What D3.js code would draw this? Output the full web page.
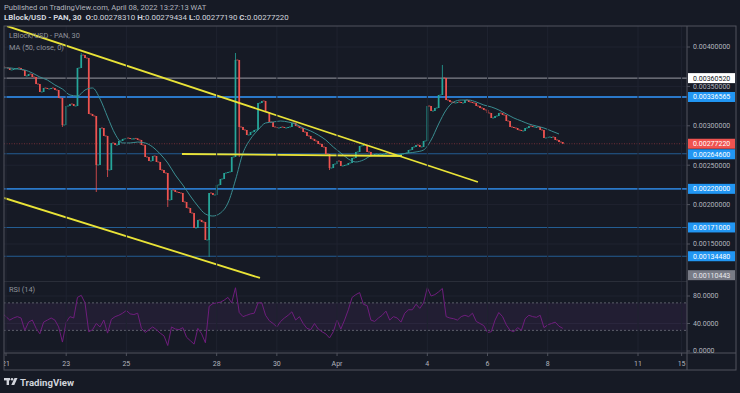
<!DOCTYPE html>
<html><head><meta charset="utf-8">
<script src="https://cdn.jsdelivr.net/npm/d3@7"></script>
<style>
html,body{margin:0;padding:0;background:#161a25;}
svg{display:block;}
text{font-family:Roboto,"Noto Sans",sans-serif;}
</style></head><body>
<svg id="c" width="740" height="393"></svg>
<script>
// ---------- DATA ----------
// 3-hour candle closes, first candle = Mar 20 21:00 (day -0.125), day 0 = Mar 21 00:00
const candleStartDay = -0.125;
const candleStepDays = 0.125;
const closes = [
0.003746,0.003734,0.003708,0.003721,0.003734,0.003708,0.003632,0.003657,0.003619,0.003530,
0.003429,0.003480,0.003467,0.003480,0.003454,0.003353,0.003010,0.003251,0.003277,0.003251,
0.003734,0.003898,0.003860,0.003150,0.003124,0.002503,0.002972,0.002871,0.002439,0.002782,
0.002756,0.002807,0.002833,0.002845,0.002833,0.002840,0.002820,0.002756,0.002604,0.002553,
0.002617,0.002541,0.002439,0.002401,0.002058,0.002185,0.002160,0.002147,0.002033,0.001957,
0.001893,0.001703,0.001805,0.001779,0.001551,0.002147,0.002122,0.002249,0.002325,0.002401,
0.002414,0.002604,0.003835,0.002985,0.002947,0.002883,0.002921,0.002947,0.003289,0.003315,
0.003175,0.003048,0.002985,0.002972,0.002985,0.002972,0.002985,0.003036,0.002997,0.002972,
0.002921,0.002871,0.002833,0.002807,0.002769,0.002731,0.002642,0.002464,0.002515,0.002553,
0.002490,0.002503,0.002528,0.002591,0.002668,0.002744,0.002756,0.002668,0.002629,0.002642,
0.002642,0.002642,0.002655,0.002642,0.002629,0.002629,0.002642,0.002655,0.002693,0.002731,
0.002756,0.002731,0.002807,0.003251,0.003188,0.003226,0.003391,0.003607,0.003327,0.003302,
0.003289,0.003302,0.003289,0.003327,0.003302,0.003289,0.003251,0.003226,0.003201,0.003162,
0.003099,0.003124,0.003162,0.003137,0.003061,0.002985,0.002972,0.002947,0.002934,0.002972,
0.002997,0.002985,0.002985,0.002947,0.002845,0.002858,0.002858,0.002820,0.002794,0.0027722
];
// long wicks (candle index, extreme price)
const wickIndex = [16, 21, 25, 28, 44, 55, 62, 63, 87, 117];
const wickPrice = [0.002985, 0.003924, 0.002160, 0.002350, 0.001970, 0.001335, 0.003924, 0.002604, 0.002439, 0.003772];
// MA(50) read at every 2nd candle
const maStep = 2;
const maValues = [
0.003734,0.003734,0.003721,0.003708,0.003670,0.003619,0.003581,0.003518,0.003467,0.003391,
0.003378,0.003454,0.003480,0.003340,0.003112,0.002896,0.002782,0.002782,0.002794,0.002782,
0.002731,0.002642,0.002528,0.002376,0.002249,0.002109,0.001982,0.001881,0.001855,0.001893,
0.002020,0.002312,0.002655,0.002833,0.002947,0.003036,0.003048,0.003061,0.003048,0.003023,
0.002972,0.002934,0.002883,0.002820,0.002731,0.002655,0.002579,0.002541,0.002566,0.002617,
0.002629,0.002629,0.002629,0.002642,0.002655,0.002668,0.002693,0.002820,0.003023,0.003201,
0.003302,0.003327,0.003327,0.003302,0.003264,0.003239,0.003201,0.003150,0.003099,0.003061,
0.003023,0.002997,0.002972,0.002934,0.002896
];
// RSI(14) read at each candle
const rsiValues = [
55,50,45,48,50,48,30,42,45,33, 25,42,45,48,45,35,13,42,50,48,
78,81,70,28,31,40,35,45,26,46, 50,52,55,59,54,53,55,33,27,31,
35,31,26,22,8,35,32,31,34,20, 15,10,33,25,12,65,69,70,71,74,
78,70,92,56,50,52,54,55,70,70, 52,44,40,35,43,48,52,57,45,50,
40,33,31,40,32,28,25,19,28,45, 32,45,60,78,82,85,68,66,45,43,
48,52,58,45,50,48,42,55,60,60, 68,62,70,92,80,82,86,91,50,48,
47,45,50,52,50,55,43,40,37,27, 28,45,56,50,38,30,28,34,30,47,
52,50,49,52,34,38,40,42,36,33
];
// horizontal levels
const majorLevels = [0.00336565, 0.0022];
const minorLevels = [0.002646, 0.00171, 0.0013448];
const whiteLevel = 0.0036052;
const lastPrice = 0.0027722;
const bottomLabelPrice = 0.00110443;
// yellow trendlines: [day, price] endpoints
const trendUpper = [[0.033, 0.004266], [15.68, 0.002287]];
const trendFlat = [[5.847, 0.002642], [13.156, 0.002617]];
const trendLower = [[-0.066, 0.002084], [8.439, 0.001069]];
// axes
const priceTicks = [0.004, 0.0035, 0.003, 0.0025, 0.002, 0.0015];
const rsiTicks = [80, 40, 0];
const rsiBands = [70, 30];
const dayTickLabels = ["21","23","25","28","30","Apr","4","6","8","11","15"];
const dayTickDays = [0, 2, 4, 7, 9, 11, 14, 16, 18, 21, 22.45];

// ---------- LAYOUT ----------
const L = 4, T = 26, R = 736, B = 370, AX = 687;
const mainBottom = 281, rsiTop = 282, timeAxisY = 353;
const svg = d3.select("#c");
const bg = "#161a25";
svg.append("rect").attr("width", 740).attr("height", 393).attr("fill", bg);

const x = d3.scaleLinear().domain([0, 21]).range([6, 638]);
const y = d3.scaleLinear().domain([0.0015, 0.004]).range([244, 47]);
const yr = d3.scaleLinear().domain([0, 80]).range([351, 296]);
const fmt = d3.format(".8f");

const defs = svg.append("defs");
defs.append("clipPath").attr("id", "cm").append("rect").attr("x", L).attr("y", T).attr("width", AX - L).attr("height", mainBottom - T);
defs.append("clipPath").attr("id", "cr").append("rect").attr("x", L).attr("y", rsiTop).attr("width", AX - L).attr("height", timeAxisY - rsiTop);

// header
svg.append("text").attr("x", 4).attr("y", 10).attr("fill", "#b2b5be").attr("font-size", 7.6)
  .text("Published on TradingView.com, April 08, 2022 13:27:13 WAT");
const h2 = svg.append("text").attr("x", 4).attr("y", 19.5).attr("fill", "#d1d4dc").attr("font-size", 7.9);
[["LBlock/USD - PAN, 30  ", true], ["O:", true], ["0.00278310 ", false], ["H:", true], ["0.00279434 ", false],
 ["L:", true], ["0.00277190 ", false], ["C:", true], ["0.00277220", false]].forEach(([t, b]) => {
  h2.append("tspan").attr("font-weight", b ? "bold" : "normal").attr("xml:space", "preserve").text(t);
});

// grid
const gMain = svg.append("g").attr("clip-path", "url(#cm)");
const gRsi = svg.append("g").attr("clip-path", "url(#cr)");
const gridColor = "#1f2330";
dayTickDays.forEach(d => {
  svg.append("line").attr("x1", x(d)).attr("x2", x(d)).attr("y1", T).attr("y2", timeAxisY).attr("stroke", gridColor).attr("stroke-width", 1);
});
priceTicks.forEach(p => {
  gMain.append("line").attr("x1", L).attr("x2", AX).attr("y1", y(p)).attr("y2", y(p)).attr("stroke", gridColor);
});
rsiTicks.forEach(v => {
  gRsi.append("line").attr("x1", L).attr("x2", AX).attr("y1", yr(v)).attr("y2", yr(v)).attr("stroke", gridColor);
});

// levels
gMain.append("line").attr("x1", L).attr("x2", AX).attr("y1", y(whiteLevel)).attr("y2", y(whiteLevel)).attr("stroke", "#9a9ca4").attr("stroke-width", 1);
majorLevels.forEach(p => gMain.append("line").attr("x1", L).attr("x2", AX).attr("y1", y(p)).attr("y2", y(p)).attr("stroke", "#2a78c8").attr("stroke-width", 1.8));
minorLevels.forEach(p => gMain.append("line").attr("x1", L).attr("x2", AX).attr("y1", y(p)).attr("y2", y(p)).attr("stroke", "#235d93").attr("stroke-width", 1.1));
gMain.append("line").attr("x1", L).attr("x2", AX).attr("y1", y(lastPrice)).attr("y2", y(lastPrice)).attr("stroke", "#a33a40").attr("stroke-width", 0.8).attr("stroke-dasharray", "1,1.5").attr("opacity", 0.8);

// candles
const cx = i => x(candleStartDay + i * candleStepDays);
const bw = 1.7;
const wickMap = new Map(wickIndex.map((k, j) => [k, wickPrice[j]]));
closes.forEach((c, i) => {
  const o = i === 0 ? c : closes[i - 1];
  const up = c >= o;
  const col = up ? "#26a69a" : "#ef5350";
  let hi = Math.max(o, c), lo = Math.min(o, c);
  if (wickMap.has(i)) { const w = wickMap.get(i); hi = Math.max(hi, w); lo = Math.min(lo, w); }
  gMain.append("line").attr("x1", cx(i)).attr("x2", cx(i)).attr("y1", y(hi)).attr("y2", y(lo)).attr("stroke", col).attr("stroke-width", 0.8);
  const yt = y(Math.max(o, c)), yb = y(Math.min(o, c));
  gMain.append("rect").attr("x", cx(i) - bw / 2).attr("y", yt).attr("width", bw).attr("height", Math.max(1, yb - yt)).attr("fill", col);
  if (i > 0) {
    gMain.append("line").attr("x1", cx(i - 1) + bw / 2).attr("x2", cx(i) - bw / 2).attr("y1", y(o)).attr("y2", y(o))
      .attr("stroke", col).attr("stroke-width", 0.9).attr("opacity", 0.85);
  }
});

// MA
gMain.append("path").datum(maValues)
  .attr("d", d3.line().x((v, k) => cx(k * maStep)).y(v => y(v)).curve(d3.curveMonotoneX))
  .attr("fill", "none").attr("stroke", "#3a8d91").attr("stroke-width", 1);

// trendlines
[trendUpper, trendFlat, trendLower].forEach(tl => {
  gMain.append("line").attr("x1", x(tl[0][0])).attr("y1", y(tl[0][1])).attr("x2", x(tl[1][0])).attr("y2", y(tl[1][1]))
    .attr("stroke", "#e9e337").attr("stroke-width", 1.8);
});

// pane legends
svg.append("text").attr("x", 9).attr("y", 38).attr("fill", "#8f929b").attr("font-size", 7.4).text("LBlock/USD - PAN, 30");
svg.append("text").attr("x", 9).attr("y", 49.5).attr("fill", "#8f929b").attr("font-size", 7.4).text("MA (50, close, 0)");

// RSI pane
gRsi.append("rect").attr("x", L).attr("width", AX - L).attr("y", yr(rsiBands[0])).attr("height", yr(rsiBands[1]) - yr(rsiBands[0])).attr("fill", "#7e3fa0").attr("opacity", 0.12);
rsiBands.forEach(v => gRsi.append("line").attr("x1", L).attr("x2", AX).attr("y1", yr(v)).attr("y2", yr(v)).attr("stroke", "#6d6f7a").attr("stroke-dasharray", "2,2").attr("stroke-width", 0.8));
gRsi.append("path").datum(rsiValues)
  .attr("d", d3.line().x((v, i) => cx(i)).y(v => yr(v)))
  .attr("fill", "none").attr("stroke", "#6e1d7c").attr("stroke-width", 1);
svg.append("text").attr("x", 9).attr("y", 292).attr("fill", "#8f929b").attr("font-size", 7.4).text("RSI (14)");

// frame and separators
svg.append("line").attr("x1", L).attr("x2", AX).attr("y1", mainBottom + 0.5).attr("y2", mainBottom + 0.5).attr("stroke", "#2a2e39");
svg.append("line").attr("x1", L).attr("x2", R).attr("y1", timeAxisY).attr("y2", timeAxisY).attr("stroke", "#50535e");
svg.append("line").attr("x1", AX).attr("x2", AX).attr("y1", T).attr("y2", B).attr("stroke", "#50535e");
svg.append("rect").attr("x", L).attr("y", T).attr("width", R - L).attr("height", B - T).attr("fill", "none").attr("stroke", "#50535e");

// price axis ticks
const axisText = "#b2b5be";
priceTicks.forEach(p => {
  svg.append("line").attr("x1", AX).attr("x2", AX + 3).attr("y1", y(p)).attr("y2", y(p)).attr("stroke", "#50535e");
  svg.append("text").attr("x", 693).attr("y", y(p)).attr("dy", "0.35em").attr("fill", axisText).attr("font-size", 7).text(fmt(p));
});
rsiTicks.forEach(v => {
  svg.append("line").attr("x1", AX).attr("x2", AX + 3).attr("y1", yr(v)).attr("y2", yr(v)).attr("stroke", "#50535e");
  svg.append("text").attr("x", 693).attr("y", yr(v)).attr("dy", "0.35em").attr("fill", axisText).attr("font-size", 7).text(d3.format(".4f")(v));
});

// price labels
const labels = [
  { p: whiteLevel, bg: "#ffffff", fg: "#131722" },
  { p: majorLevels[0], bg: "#2196f3", fg: "#ffffff" },
  { p: lastPrice, bg: "#f05350", fg: "#ffffff" },
  { p: minorLevels[0], bg: "#2196f3", fg: "#ffffff" },
  { p: majorLevels[1], bg: "#2196f3", fg: "#ffffff" },
  { p: minorLevels[1], bg: "#2196f3", fg: "#ffffff" },
  { p: minorLevels[2], bg: "#2196f3", fg: "#ffffff" },
  { p: bottomLabelPrice, bg: "#787b86", fg: "#e8e9ee" }
];
let prevY = -100;
labels.forEach(l => {
  let cy = y(l.p);
  if (cy < prevY + 10.5) cy = prevY + 10.5;
  prevY = cy;
  svg.append("rect").attr("x", AX + 1).attr("y", cy - 5).attr("width", R - AX - 2).attr("height", 10).attr("fill", l.bg);
  svg.append("text").attr("x", 693).attr("y", cy).attr("dy", "0.35em").attr("fill", l.fg).attr("font-size", 7).text(fmt(l.p));
});

// time axis
dayTickLabels.forEach((t, k) => {
  svg.append("line").attr("x1", x(dayTickDays[k])).attr("x2", x(dayTickDays[k])).attr("y1", timeAxisY).attr("y2", timeAxisY + 3).attr("stroke", "#50535e");
});
const gTime = svg.append("g");
defs.append("clipPath").attr("id", "ct").append("rect").attr("x", L).attr("y", timeAxisY).attr("width", AX - L).attr("height", B - timeAxisY);
gTime.attr("clip-path", "url(#ct)");
dayTickLabels.forEach((t, k) => {
  gTime.append("text").attr("x", x(dayTickDays[k])).attr("y", 365.5).attr("text-anchor", "middle").attr("fill", axisText).attr("font-size", 7).text(t);
});

// TradingView logo
const lg = svg.append("g").attr("fill", "#d1d4dc");
lg.append("rect").attr("x", 4).attr("y", 378).attr("width", 6).attr("height", 2.4);
lg.append("rect").attr("x", 6.6).attr("y", 378).attr("width", 2.4).attr("height", 7);
lg.append("circle").attr("cx", 12).attr("cy", 379.3).attr("r", 1.3);
lg.append("path").attr("d", "M14.5,378 L17.5,378 L14.3,385 L11.3,385 Z");
svg.append("text").attr("x", 20).attr("y", 385.5).attr("fill", "#d1d4dc").attr("font-size", 9.6).attr("font-weight", "bold").text("TradingView");
</script>
</body></html>
